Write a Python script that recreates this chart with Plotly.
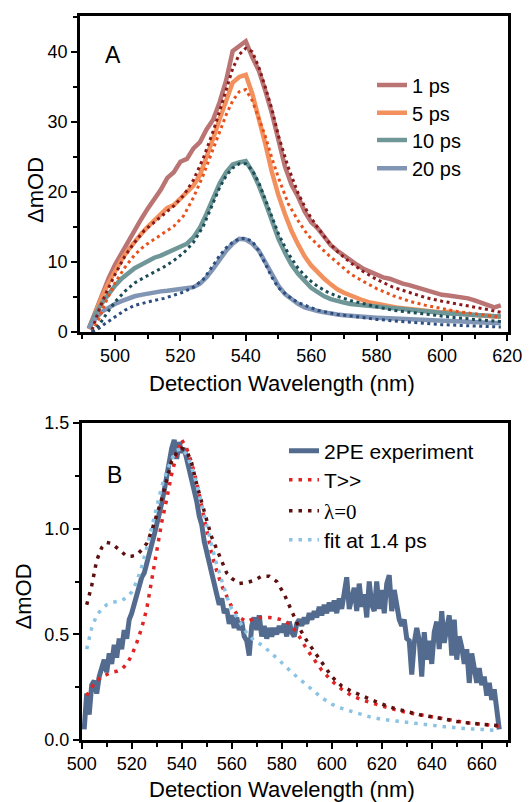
import plotly.graph_objects as go

FONT = "Arial, 'Liberation Sans', Helvetica, sans-serif"
SERIF = "Liberation Serif, Times New Roman, serif"

# ---------------- Panel A data ----------------
WL_A = [492, 494, 496, 498, 500, 502, 504, 506, 508, 510, 512, 514, 516, 518, 520,
        522, 524, 526, 528, 530, 532, 534, 536, 538, 540, 542, 544, 546, 548, 550,
        552, 554, 556, 558, 560, 562, 564, 566, 568, 570, 572, 574, 576, 578, 580,
        582, 584, 586, 588, 590, 592, 594, 596, 598, 600, 602, 604, 606, 608, 610,
        612, 614, 616, 618]

PS1 = [0.5, 3.0, 5.3, 7.6, 9.6, 11.3, 13.0, 14.7, 16.1, 17.6, 18.9, 20.3, 22.0, 22.8, 24.3,
       24.7, 26.2, 27.1, 28.9, 30.3, 32.8, 35.9, 40.1, 40.9, 41.5, 39.2, 37.3, 34.4, 31.2, 27.4,
       23.6, 21.0, 19.3, 17.2, 15.7, 14.8, 13.5, 12.4, 11.6, 10.9, 10.2, 9.6, 9.0, 8.6, 8.1,
       7.8, 7.6, 7.2, 6.9, 6.7, 6.4, 6.1, 5.8, 5.6, 5.3, 5.2, 5.1, 4.9, 4.8, 4.5,
       4.2, 3.8, 3.5, 3.8]

PS5 = [0.4, 2.8, 5.0, 7.0, 8.8, 10.3, 11.7, 12.9, 14.0, 15.0, 15.9, 16.6, 17.7, 18.1, 19.0,
       19.9, 20.9, 22.4, 24.9, 27.6, 30.4, 33.2, 35.6, 36.4, 36.7, 34.0, 30.5, 26.8, 22.8, 19.5,
       16.8, 14.4, 12.5, 10.8, 9.5, 8.5, 7.6, 6.8, 6.1, 5.6, 5.2, 4.9, 4.5, 4.2, 4.0,
       3.8, 3.6, 3.5, 3.4, 3.3, 3.2, 3.1, 3.0, 2.9, 2.8, 2.9, 2.7, 2.6, 2.5, 2.4,
       2.4, 2.3, 2.2, 2.2]

PS10 = [0.5, 2.6, 4.1, 5.4, 6.6, 7.6, 8.4, 9.1, 9.6, 10.1, 10.6, 10.9, 11.3, 11.7, 12.1,
        12.6, 13.5, 14.9, 16.9, 19.2, 21.2, 22.8, 23.9, 24.2, 24.4, 22.9, 20.9, 18.5, 15.7, 13.3,
        11.3, 9.6, 8.3, 7.2, 6.3, 5.7, 5.1, 4.7, 4.4, 4.2, 4.0, 3.9, 3.8, 3.7, 3.6,
        3.5, 3.4, 3.3, 3.2, 3.1, 3.0, 2.95, 2.9, 2.8, 2.7, 2.65, 2.6, 2.55, 2.5, 2.45,
        2.4, 2.3, 2.2, 2.2]

PS20 = [0.5, 1.9, 2.9, 3.5, 4.0, 4.4, 4.8, 5.1, 5.3, 5.5, 5.7, 5.8, 5.9, 6.0, 6.1,
        6.2, 6.4, 6.9, 7.8, 9.0, 10.4, 11.6, 12.6, 13.3, 13.2, 12.6, 11.6, 10.0, 8.3, 6.6,
        5.4, 4.6, 4.0, 3.5, 3.2, 3.0, 2.8, 2.6, 2.5, 2.4, 2.3, 2.2, 2.15, 2.1, 2.05,
        2.0, 1.95, 1.9, 1.85, 1.8, 1.75, 1.7, 1.65, 1.6, 1.55, 1.5, 1.5, 1.45, 1.4, 1.4,
        1.35, 1.3, 1.3, 1.3]

WL_FIT_A = [493, 495, 497, 500, 503, 506, 509, 512, 515, 518, 521, 524, 527, 530, 532,
            534, 536, 538, 540, 542, 544, 546, 548, 550, 553, 556, 559, 562, 565, 568,
            572, 576, 580, 585, 590, 595, 600, 605, 610, 614, 618]

FIT1 = [0.3, 3.0, 5.3, 8.2, 10.8, 12.8, 14.5, 15.7, 16.8, 18.0, 19.5, 21.7, 24.8, 28.6, 31.5,
        34.6, 37.6, 39.6, 40.5, 40.0, 37.8, 34.9, 31.8, 28.0, 23.5, 19.8, 17.0, 14.9, 13.0, 11.5,
        9.9, 8.6, 7.5, 6.4, 5.6, 4.9, 4.4, 4.0, 3.6, 3.2, 2.8]

FIT5 = [0.0, 1.8, 4.1, 7.0, 9.2, 11.0, 12.3, 13.2, 14.1, 15.1, 16.6, 19.2, 22.4, 26.0, 28.6,
        31.0, 33.0, 34.3, 34.6, 33.0, 30.5, 27.9, 24.8, 22.0, 18.3, 15.9, 13.8, 12.4, 11.1, 9.9,
        8.3, 7.2, 6.2, 5.2, 4.4, 3.8, 3.3, 2.9, 2.6, 2.3, 2.1]

FIT10 = [0.0, 0.9, 2.3, 4.3, 5.8, 7.0, 7.8, 8.5, 9.3, 10.2, 11.3, 12.8, 15.1, 18.4, 20.6,
         22.3, 23.4, 24.0, 24.0, 23.1, 21.3, 18.9, 16.4, 14.0, 11.2, 9.1, 7.6, 6.5, 5.7, 5.1,
         4.5, 4.0, 3.6, 3.1, 2.8, 2.5, 2.3, 2.0, 1.8, 1.6, 1.5]

FIT20 = [0.0, 0.5, 1.2, 2.1, 3.1, 3.8, 4.2, 4.5, 4.8, 5.2, 5.7, 6.4, 7.5, 9.5, 10.9,
         12.0, 12.8, 13.3, 13.4, 12.9, 11.6, 9.7, 7.8, 6.3, 5.1, 4.2, 3.6, 3.1, 2.8, 2.5,
         2.3, 2.0, 1.8, 1.6, 1.4, 1.2, 1.05, 0.95, 0.85, 0.75, 0.7]

NAMES_A = ["1 ps", "5 ps", "10 ps", "20 ps"]

# ---------------- Panel B data ----------------
WL_B = list(range(501, 668))
EXP_2PE = [0.05, 0.22, 0.12, 0.26, 0.28, 0.22, 0.30, 0.34, 0.38, 0.32,
           0.41, 0.36, 0.45, 0.39, 0.48, 0.43, 0.52, 0.48, 0.57, 0.60,
           0.64, 0.70, 0.72, 0.77, 0.79, 0.83, 0.88, 0.92, 0.97, 1.02,
           1.06, 1.12, 1.18, 1.25, 1.31, 1.38, 1.42, 1.33, 1.41, 1.36,
           1.38, 1.33, 1.28, 1.24, 1.17, 1.13, 1.06, 1.02, 0.94, 0.90,
           0.84, 0.79, 0.74, 0.70, 0.64, 0.67, 0.60, 0.62, 0.55, 0.59,
           0.53, 0.58, 0.52, 0.56, 0.49, 0.47, 0.40, 0.54, 0.58, 0.52,
           0.59, 0.49, 0.54, 0.48, 0.53, 0.49, 0.53, 0.50, 0.54, 0.51,
           0.55, 0.49, 0.56, 0.51, 0.49, 0.55, 0.57, 0.54, 0.58, 0.55,
           0.60, 0.57, 0.61, 0.58, 0.63, 0.59, 0.64, 0.60, 0.65, 0.61,
           0.66, 0.60, 0.67, 0.62, 0.69, 0.77, 0.62, 0.67, 0.72, 0.61,
           0.74, 0.63, 0.69, 0.58, 0.75, 0.64, 0.61, 0.75, 0.62, 0.71,
           0.60, 0.74, 0.78, 0.61, 0.71, 0.64, 0.57, 0.54, 0.57, 0.48,
           0.47, 0.31, 0.46, 0.53, 0.47, 0.30, 0.51, 0.38, 0.47, 0.36,
           0.51, 0.56, 0.43, 0.61, 0.46, 0.53, 0.59, 0.40, 0.57, 0.38,
           0.49, 0.44, 0.36, 0.43, 0.27, 0.41, 0.34, 0.27, 0.34, 0.26,
           0.30, 0.21, 0.27, 0.19, 0.24, 0.12, 0.05]

WL_B_FIT = [502, 504, 506, 508, 510, 512, 514, 516, 518, 520, 522, 524, 526, 528, 530,
            532, 534, 536, 538, 540, 542, 544, 546, 548, 550, 552, 554, 556, 558, 560,
            563, 566, 569, 572, 575, 578, 581, 584, 587, 590, 593, 596, 600, 604, 608,
            612, 616, 620, 625, 630, 635, 640, 645, 650, 655, 660, 664, 667]

T_HIGH = [0.21, 0.25, 0.28, 0.30, 0.31, 0.32, 0.325, 0.335, 0.36, 0.40, 0.46, 0.53, 0.62, 0.76, 0.90,
          1.03, 1.14, 1.26, 1.35, 1.42, 1.38, 1.31, 1.22, 1.10, 0.99, 0.88, 0.80, 0.73, 0.68, 0.63,
          0.58, 0.56, 0.575, 0.58, 0.58, 0.575, 0.565, 0.54, 0.49, 0.43, 0.38, 0.33, 0.28, 0.24, 0.21,
          0.19, 0.175, 0.16, 0.145, 0.13, 0.12, 0.11, 0.10, 0.09, 0.08, 0.075, 0.07, 0.065]

LAMBDA0 = [0.64, 0.73, 0.85, 0.91, 0.935, 0.93, 0.91, 0.89, 0.87, 0.87, 0.875, 0.90, 0.93, 0.99, 1.06,
           1.14, 1.23, 1.32, 1.36, 1.38, 1.37, 1.31, 1.21, 1.12, 1.04, 0.96, 0.90, 0.84, 0.79, 0.765,
           0.74, 0.745, 0.755, 0.775, 0.775, 0.75, 0.69, 0.61, 0.53, 0.47, 0.42, 0.37, 0.30, 0.255, 0.23,
           0.21, 0.19, 0.17, 0.15, 0.135, 0.12, 0.11, 0.097, 0.088, 0.08, 0.075, 0.07, 0.068]

FIT_14 = [0.43, 0.53, 0.59, 0.62, 0.64, 0.65, 0.655, 0.66, 0.675, 0.70, 0.75, 0.82, 0.91, 1.01, 1.11,
          1.20, 1.27, 1.33, 1.37, 1.38, 1.35, 1.29, 1.21, 1.11, 1.01, 0.92, 0.83, 0.75, 0.68, 0.62,
          0.56, 0.505, 0.47, 0.45, 0.42, 0.39, 0.355, 0.32, 0.29, 0.255, 0.225, 0.20, 0.17, 0.15, 0.135,
          0.12, 0.107, 0.098, 0.09, 0.082, 0.076, 0.07, 0.063, 0.057, 0.053, 0.05, 0.047, 0.045]

NAMES_B = ["2PE experiment", "T&gt;&gt;",
           "<span style=\"font-family:" + SERIF + "\">λ=0</span>",
           "fit at 1.4 ps"]

# ---------------- figure geometry ----------------
# page body has an 8px margin; figure is sized to fit the window
OFF = 8
W, H = 531 - OFF, 802 - OFF


def fx(px):
    return (px - OFF) / W


def fy(py):
    return 1 - (py - OFF) / H


fig = go.Figure()

solid_cols = ["#ba7474", "#f2915d", "#6f9797", "#8195b5"]
dot_cols = ["#8a1a1a", "#e8511a", "#1c4c57", "#2c4d7e"]
legA_rows = [85, 112.7, 140, 168.3]
legB_rows = [451, 480, 511, 540]

layout_legends = {}
for i, (nm, ys, c) in enumerate(zip(NAMES_A, [PS1, PS5, PS10, PS20], solid_cols)):
    key = "legend" if i == 0 else "legend%d" % (i + 1)
    fig.add_trace(go.Scatter(x=WL_A, y=ys, mode="lines", name=nm,
                             line=dict(color=c, width=4.5),
                             xaxis="x", yaxis="y", legend=key))
    layout_legends[key] = dict(x=fx(372), y=fy(legA_rows[i]), xanchor="left", yanchor="middle",
                               bgcolor="rgba(0,0,0,0)", borderwidth=0,
                               font=dict(family=FONT, size=20, color="black"))
for ys, c in zip([FIT1, FIT5, FIT10, FIT20], dot_cols):
    fig.add_trace(go.Scatter(x=WL_FIT_A, y=ys, mode="lines", showlegend=False,
                             line=dict(color=c, width=3, dash="3px,3.5px"),
                             xaxis="x", yaxis="y"))

B_cols = ["#536b8e", "#e02424", "#5c1010", "#8ac3e3"]
B_data = [(WL_B, EXP_2PE), (WL_B_FIT, T_HIGH), (WL_B_FIT, LAMBDA0), (WL_B_FIT, FIT_14)]
for j, (nm, (xs, ys), c) in enumerate(zip(NAMES_B, B_data, B_cols)):
    key = "legend%d" % (j + 5)
    if j == 0:
        ln = dict(color=c, width=5)
    else:
        ln = dict(color=c, width=3.5, dash="3.5px,6px")
    fig.add_trace(go.Scatter(x=xs, y=ys, mode="lines", name=nm, line=ln,
                             xaxis="x2", yaxis="y2", legend=key))
    layout_legends[key] = dict(x=fx(284), y=fy(legB_rows[j]), xanchor="left", yanchor="middle",
                               bgcolor="rgba(0,0,0,0)", borderwidth=0,
                               font=dict(family=FONT, size=21, color="black"))

axis_common = dict(showline=True, linecolor="black", linewidth=2.5, mirror=True,
                   ticks="outside", ticklen=6, tickwidth=2, tickcolor="black",
                   showgrid=False, zeroline=False, automargin=False,
                   tickfont=dict(family=FONT, size=18, color="black"))
minor_common = dict(ticklen=4, tickwidth=2, ticks="outside", tickcolor="black")

title_font = dict(family=FONT, size=22, color="black")

fig.update_layout(
    width=W, height=H, template="none",
    paper_bgcolor="white", plot_bgcolor="white",
    margin=dict(l=0, r=0, t=0, b=0),
    font=dict(family=FONT, color="black"),
    xaxis=dict(domain=[fx(80), fx(508)], anchor="y", range=[489.3, 620.2],
               tick0=500, dtick=20, minor=dict(dtick=10, tick0=500, **minor_common),
               **axis_common),
    yaxis=dict(domain=[fy(332), fy(16)], anchor="x", range=[0, 45.1],
               tick0=0, dtick=10, minor=dict(dtick=5, tick0=0, **minor_common),
               **axis_common),
    xaxis2=dict(domain=[fx(81.7), fx(508)], anchor="y2", range=[500, 670.5],
                tick0=500, dtick=20, minor=dict(dtick=10, tick0=500, **minor_common),
                **axis_common),
    yaxis2=dict(domain=[fy(740), fy(423)], anchor="x2", range=[0, 1.5],
                tick0=0, dtick=0.5, tickformat=".1f",
                minor=dict(dtick=0.25, tick0=0, **minor_common),
                **axis_common),
    annotations=[
        dict(text="A", x=fx(113), y=fy(55), xref="paper", yref="paper",
             xanchor="center", yanchor="middle",
             showarrow=False, font=dict(family=FONT, size=23, color="black")),
        dict(text="B", x=fx(114), y=fy(475), xref="paper", yref="paper",
             xanchor="center", yanchor="middle",
             showarrow=False, font=dict(family=FONT, size=23, color="black")),
        dict(text="Detection Wavelength (nm)", x=fx(281.7), y=fy(383), xref="paper", yref="paper",
             xanchor="center", yanchor="middle", showarrow=False, font=title_font),
        dict(text="Detection Wavelength (nm)", x=fx(281.7), y=fy(789), xref="paper", yref="paper",
             xanchor="center", yanchor="middle", showarrow=False, font=title_font),
        dict(text="ΔmOD", x=fx(36), y=fy(190), xref="paper", yref="paper", textangle=-90,
             xanchor="center", yanchor="middle", showarrow=False, font=title_font),
        dict(text="ΔmOD", x=fx(22.5), y=fy(597), xref="paper", yref="paper", textangle=-90,
             xanchor="center", yanchor="middle", showarrow=False, font=title_font),
    ],
    **layout_legends,
)

fig.write_html("out.html")
